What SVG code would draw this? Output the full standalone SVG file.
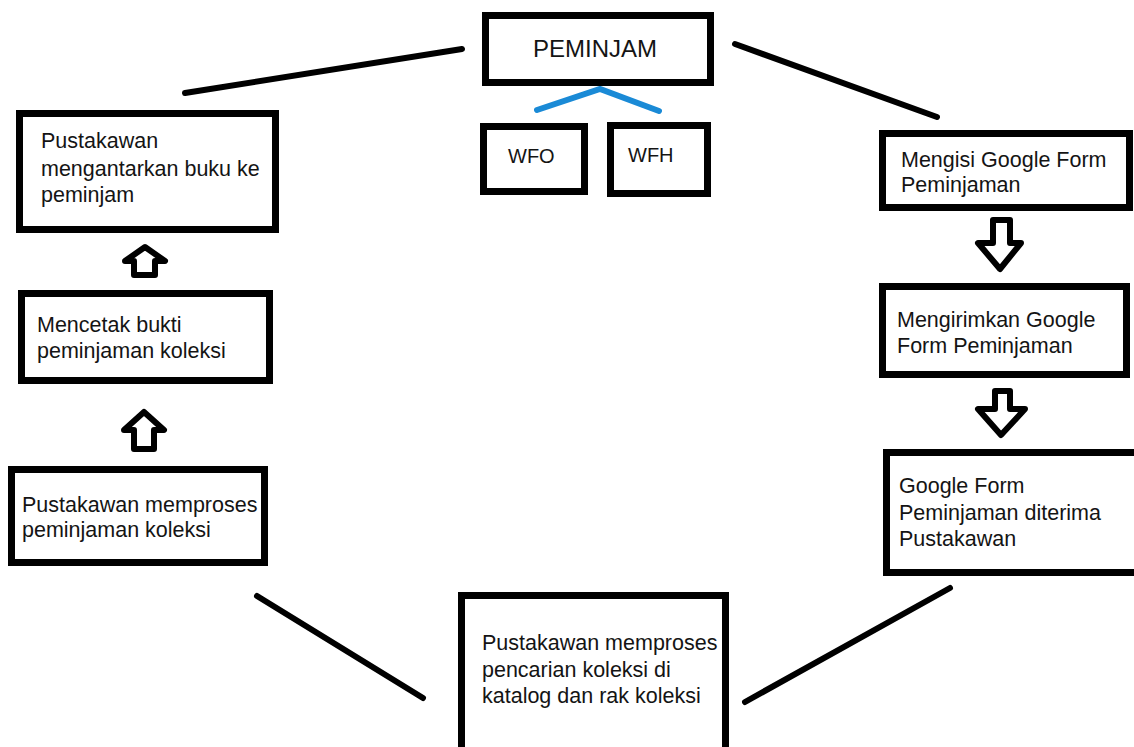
<svg xmlns="http://www.w3.org/2000/svg" width="1134" height="747" viewBox="0 0 1134 747">
<style>
.box{fill:#fff;stroke:#000;stroke-width:7}
.t{font-family:"Liberation Sans",Arial,sans-serif;font-size:21.5px;fill:#141414}
.ln{stroke:#000;stroke-width:6;stroke-linecap:round;fill:none}
.blue{stroke:#1a8ad6;stroke-width:6;stroke-linecap:round;stroke-linejoin:miter;fill:none}
.arr{fill:#fff;stroke:#000;stroke-width:6;stroke-linejoin:round}
</style>
<rect width="1134" height="747" fill="#fff"/>
<g id="connectors">
<line class="ln" x1="185" y1="93" x2="462" y2="49"/>
<line class="ln" x1="735" y1="44" x2="937" y2="117"/>
<line class="ln" x1="257" y1="596" x2="423" y2="698"/>
<line class="ln" x1="745" y1="702" x2="950" y2="588"/>
<polyline class="blue" points="537,110 600,89 659,111"/>
<path class="arr" d="M145,247 L165,261 L155,261 L155,275 L134,275 L134,261 L125,261 Z"/>
<path class="arr" d="M144,412 L164,430 L154,430 L154,449 L134,449 L134,430 L124,430 Z"/>
<path class="arr" d="M993,220 L1010,220 L1010,243 L1021,243 L1000,269 L978,243 L993,243 Z"/>
<path class="arr" d="M995,391 L1010,391 L1010,409 L1025,409 L1001,435 L978,409 L995,409 Z"/>
</g>
<g id="peminjam">
<rect class="box" x="485.5" y="15.5" width="225" height="67"/>
<text class="t" x="533" y="57" style="font-size:24px">PEMINJAM</text>
</g>
<g id="wfo">
<rect class="box" x="483.5" y="126.5" width="101" height="65"/>
<text class="t" x="508" y="163" style="font-size:20px">WFO</text>
</g>
<g id="wfh">
<rect class="box" x="610.5" y="125.5" width="97" height="68"/>
<text class="t" x="628" y="162" style="font-size:20px">WFH</text>
</g>
<g id="antar">
<rect class="box" x="19.5" y="113.5" width="256" height="116"/>
<text class="t" x="41" y="148">Pustakawan</text>
<text class="t" x="41" y="176">mengantarkan buku ke</text>
<text class="t" x="41" y="202">peminjam</text>
</g>
<g id="cetak">
<rect class="box" x="21.5" y="293.5" width="248" height="87"/>
<text class="t" x="37" y="332">Mencetak bukti</text>
<text class="t" x="37" y="358">peminjaman koleksi</text>
</g>
<g id="proses-pinjam">
<rect class="box" x="11.5" y="469.5" width="253" height="93"/>
<text class="t" x="22" y="512">Pustakawan memproses</text>
<text class="t" x="22" y="537">peminjaman koleksi</text>
</g>
<g id="isi">
<rect class="box" x="882.5" y="133.5" width="247" height="74"/>
<text class="t" x="901" y="167">Mengisi Google Form</text>
<text class="t" x="901" y="192">Peminjaman</text>
</g>
<g id="kirim">
<rect class="box" x="882.5" y="286.5" width="244" height="88"/>
<text class="t" x="897" y="327">Mengirimkan Google</text>
<text class="t" x="897" y="353">Form Peminjaman</text>
</g>
<g id="terima">
<rect class="box" x="886.5" y="452.5" width="260" height="120"/>
<text class="t" x="899" y="493">Google Form</text>
<text class="t" x="899" y="520">Peminjaman diterima</text>
<text class="t" x="899" y="546">Pustakawan</text>
</g>
<g id="cari">
<rect class="box" x="461.5" y="595.5" width="264" height="160"/>
<text class="t" x="482" y="650">Pustakawan memproses</text>
<text class="t" x="482" y="677">pencarian koleksi di</text>
<text class="t" x="482" y="703">katalog dan rak koleksi</text>
</g>
</svg>
